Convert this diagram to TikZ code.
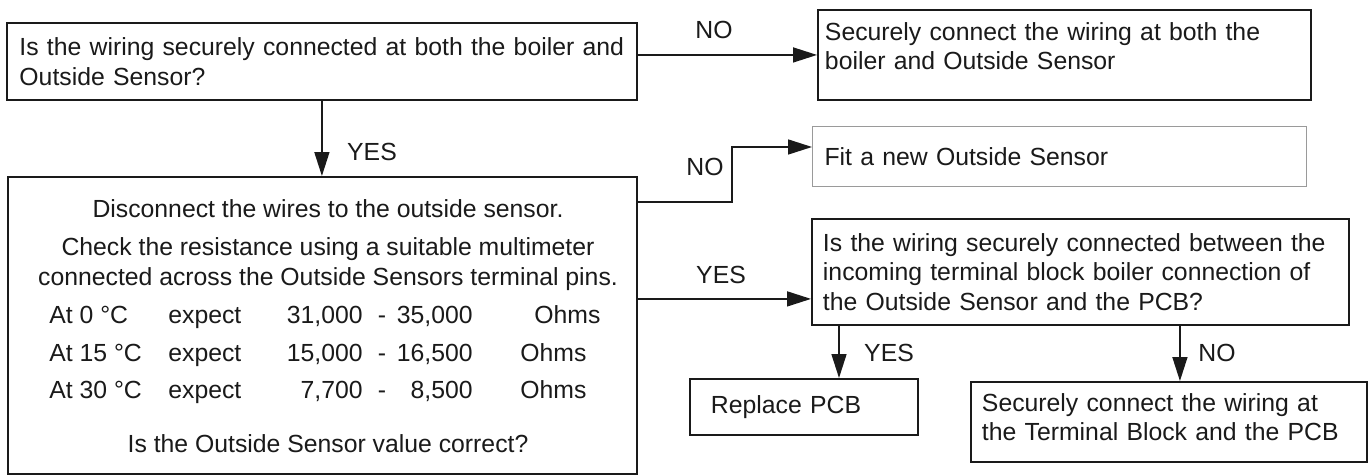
\documentclass[tikz,border=0pt]{standalone}
\usepackage{fontspec}
\setmainfont{Liberation Sans}
\usepackage{tikz}
\usetikzlibrary{arrows.meta, positioning, calc}
\usepackage{xcolor}
\definecolor{FlowInk}{HTML}{1A1A1A}
\definecolor{FlowGrey}{HTML}{9A9A9A}
\definecolor{FlowWhite}{HTML}{ffffff}
\newcommand{\flowfont}{\fontsize{14.1}{16.8}\selectfont}
\tikzset{
    % Node styles - plain sharp boxes
    stepbox/.style={
        rectangle,
        draw=FlowInk,
        line width=1.1pt,
        anchor=north west,
        align=left,
        inner ysep=0pt,
        text=FlowInk,
        font=\flowfont
    },
    fitbox/.style={
        stepbox,
        draw=FlowGrey,
        line width=0.6pt
    },
    boxtext/.style={
        inner sep=0pt,
        text height=10pt,
        text depth=0pt,
        text=FlowInk,
        font=\flowfont
    },
    answer/.style={
        boxtext
    },
    % Arrow styles
    myarrow/.style={
        -{Triangle[length=4.8mm, width=3mm]},
        line width=0.9pt,
        draw=FlowInk
    }
}

\begin{document}
\begin{tikzpicture}[x=0.02cm, y=-0.02cm]
    \fill[FlowWhite] (0,0) rectangle (1371,474);

    % Wiring at boiler and sensor
    \node[stepbox, minimum height=1.54cm, text width=12.1cm, inner xsep=0.25cm] (qwire) at (6,22)
        {Is the wiring securely connected at both the boiler and\\Outside Sensor?};
    \node[stepbox, minimum height=1.8cm, text width=9.58cm, inner xsep=0.14cm, text depth=0.95cm] (fixwire) at (817,9)
        {Securely connect the wiring at both the\\boiler and Outside Sensor};
    \draw[myarrow] (qwire.east |- fixwire.west) -- (fixwire.west);
    \node[answer] (nowire) at (714,30) {NO};

    % Resistance check
    \node[stepbox, minimum width=12.58cm, minimum height=5.94cm, inner sep=0pt] (checkres) at (7,176) {};
    \draw[myarrow] (qwire.south) -- (qwire.south |- checkres.north);
    \node[answer] (yeswire) at (372,152) {YES};

    \node[boxtext] (disconnect) at (328,209) {Disconnect the wires to the outside sensor.};
    \node[boxtext] (checkone) at (328,247) {Check the resistance using a suitable multimeter};
    \node[boxtext] (checktwo) at (328,277) {connected across the Outside Sensors terminal pins.};
    \foreach \temp/\lo/\hi/\ohm/\yy [count=\i] in
        {0/{31,000}/{35,000}/534/315, 15/{15,000}/{16,500}/520/353, 30/{7,700}/{8,500}/520/390} {
        \node[boxtext, anchor=west] (at\i) at (49,\yy) {At \temp\ °C};
        \node[boxtext, anchor=west] (exp\i) at (168,\yy) {expect};
        \node[boxtext, anchor=east] (lo\i) at (363,\yy) {\lo};
        \node[boxtext] (dash\i) at (382,\yy) {-};
        \node[boxtext, anchor=east] (hi\i) at (473,\yy) {\hi};
        \node[boxtext, anchor=west] (ohm\i) at (\ohm,\yy) {Ohms};
    }
    \node[boxtext] (sensorok) at (328,444) {Is the Outside Sensor value correct?};

    % Sensor value wrong
    \node[fitbox, minimum height=1.2cm, text width=9.4cm, inner xsep=0.24cm] (newsensor) at (812,126)
        {Fit a new Outside Sensor};
    \coordinate (nostart) at (636,202);
    \coordinate (noin) at ([yshift=-0.42cm]newsensor.north west);
    \draw[myarrow] (checkres.east |- nostart) -| (noin -| 732,0) -- (noin);
    \node[answer] (nosensor) at (705,167) {NO};

    % Sensor value correct
    \node[stepbox, minimum height=2.12cm, text width=10.3cm, inner xsep=0.22cm] (qpcb) at (811,218)
        {Is the wiring securely connected between the\\incoming terminal block boiler connection of\\the Outside Sensor and the PCB?};
    \coordinate (yesin) at ([yshift=0.54cm]qpcb.south west);
    \draw[myarrow] (checkres.east |- yesin) -- (yesin);
    \node[answer] (yessensor) at (721,275) {YES};

    % PCB wiring
    \node[stepbox, minimum height=1.12cm, text width=3.72cm, inner xsep=0.42cm] (replpcb) at (689,378)
        {Replace PCB};
    \node[stepbox, minimum height=1.6cm, text width=7.48cm, inner xsep=0.22cm, text depth=0.79cm] (fixterm) at (970,381)
        {Securely connect the wiring at\\the Terminal Block and the PCB};
    \coordinate (yesout) at ([xshift=0.56cm]qpcb.south west);
    \coordinate (noout) at ([xshift=0.22cm]fixterm.north);
    \draw[myarrow] (yesout) -- (yesout |- replpcb.north);
    \draw[myarrow] (qpcb.south -| noout) -- (noout);
    \node[answer] (yespcb) at (889,353) {YES};
    \node[answer] (nopcb) at (1217,353) {NO};
\end{tikzpicture}
\end{document}
